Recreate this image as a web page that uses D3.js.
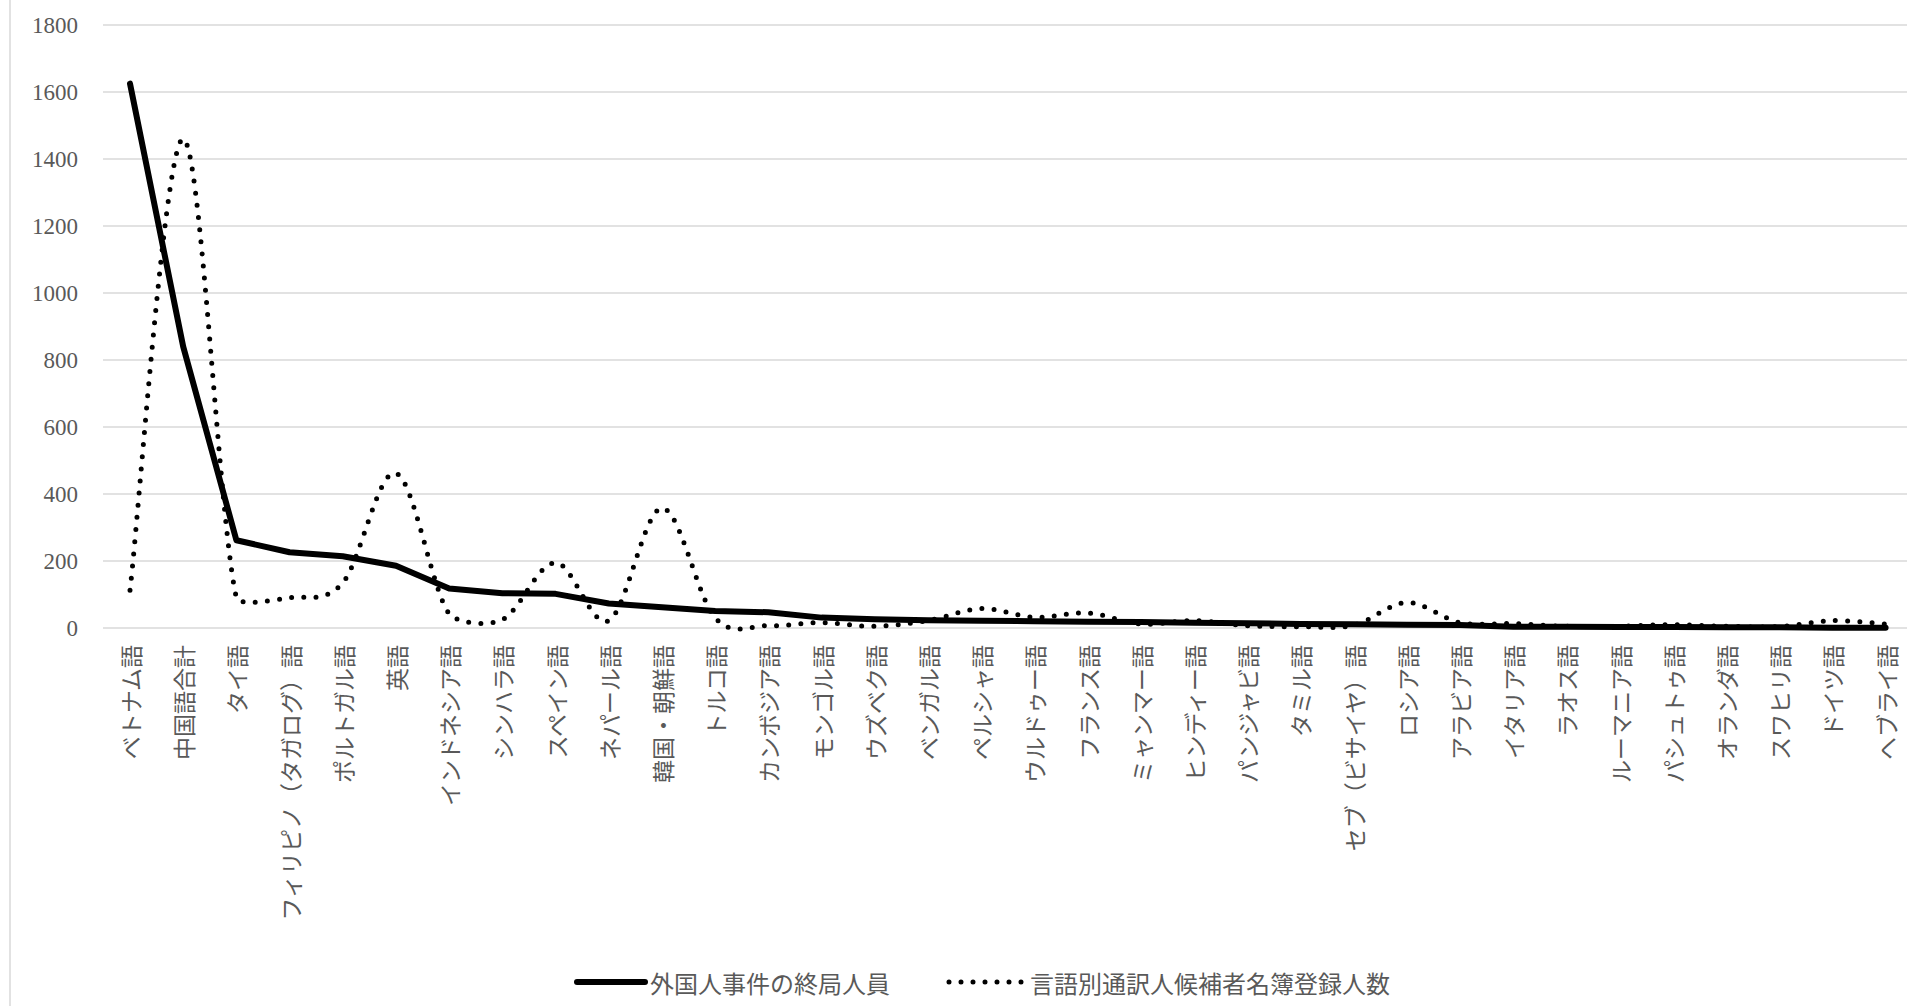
<!DOCTYPE html>
<html>
<head>
<meta charset="utf-8">
<script src="https://cdn.jsdelivr.net/npm/d3@7"></script>
<style>
  body { margin: 0; background: #fff; }
  svg { display: block; }
</style>
</head>
<body>
<svg id="chart"></svg>
<script>
// categories (languages)
const languages = [
  "ベトナム語", "中国語合計", "タイ語", "フィリピノ（タガログ）語", "ポルトガル語", "英語",
  "インドネシア語", "シンハラ語", "スペイン語", "ネパール語", "韓国・朝鮮語", "トルコ語",
  "カンボジア語", "モンゴル語", "ウズベク語", "ベンガル語", "ペルシャ語", "ウルドゥー語",
  "フランス語", "ミャンマー語", "ヒンディー語", "パンジャビ語", "タミル語", "セブ（ビサイヤ）語",
  "ロシア語", "アラビア語", "イタリア語", "ラオス語", "ルーマニア語", "パシュトゥ語",
  "オランダ語", "スワヒリ語", "ドイツ語", "ヘブライ語"
];

// 外国人事件の終局人員
const caseCounts = [
  1625, 840, 262, 226, 214, 186, 118, 104, 102, 73, 62, 51,
  47, 31, 26, 23, 22, 20, 19, 18, 16, 14, 12, 11,
  10, 9, 4, 4, 3, 3, 2, 2, 1, 1
];

// 言語別通訳人候補者名簿登録人数
const interpreterCounts = [
  113, 1460, 90, 90, 135, 462, 42, 25, 195, 22, 358, 30,
  7, 16, 5, 22, 58, 32, 45, 12, 22, 7, 4, 8,
  76, 16, 13, 5, 5, 10, 5, 4, 22, 12
];

const yTicks = [0, 200, 400, 600, 800, 1000, 1200, 1400, 1600, 1800];

const seriesNames = ["外国人事件の終局人員", "言語別通訳人候補者名簿登録人数"];

const width = 1907, height = 1006;
const jpFont = "'Noto Sans CJK JP', sans-serif";
const numFont = "'Liberation Serif', 'Times New Roman', 'DejaVu Serif', serif";
const textColor = "#595959";

const svg = d3.select('#chart')
    .attr('width', width)
    .attr('height', height);

const x = d3.scalePoint()
    .domain(languages)
    .range([130, 1885.6]);

const y = d3.scaleLinear()
    .domain([0, 1800])
    .range([628, 25]);

// Excel-like smoothed line: bezier with 1/6 tangents, shortened on steep neighbours
function smoothPath(values) {
    const pts = values.map((v, i) => [x(languages[i]), y(v)]);
    const dist = (a, b) => Math.hypot(b[0] - a[0], b[1] - a[1]);
    const p = d3.path();
    p.moveTo(pts[0][0], pts[0][1]);
    for (let i = 0; i < pts.length - 1; i++) {
        const p0 = pts[Math.max(i - 1, 0)], p1 = pts[i], p2 = pts[i + 1];
        const p3 = pts[Math.min(i + 2, pts.length - 1)];
        const d12 = dist(p1, p2), d02 = dist(p0, p2), d13 = dist(p1, p3);
        const l0 = d02 / 6 < d12 / 2 ? d02 / 6 : d12 / 6;
        const l3 = d13 / 6 < d12 / 2 ? d13 / 6 : d12 / 6;
        const b1 = [p1[0] + (p2[0] - p0[0]) / d02 * l0, p1[1] + (p2[1] - p0[1]) / d02 * l0];
        const b2 = [p2[0] - (p3[0] - p1[0]) / d13 * l3, p2[1] - (p3[1] - p1[1]) / d13 * l3];
        p.bezierCurveTo(b1[0], b1[1], b2[0], b2[1], p2[0], p2[1]);
    }
    return p.toString();
}

// left border of the chart area
svg.append('line')
    .attr('x1', 10).attr('x2', 10)
    .attr('y1', 0).attr('y2', height)
    .attr('stroke', '#d9d9d9')
    .attr('stroke-width', 1.5);

// gridlines
svg.append('g')
  .selectAll('line')
  .data(yTicks)
  .enter().append('line')
    .attr('x1', 103).attr('x2', width)
    .attr('y1', d => y(d)).attr('y2', d => y(d))
    .attr('stroke', '#d9d9d9')
    .attr('stroke-width', 1.5);

// y labels
svg.append('g')
  .selectAll('text')
  .data(yTicks)
  .enter().append('text')
    .attr('x', 78)
    .attr('y', d => y(d))
    .attr('dy', '0.35em')
    .attr('text-anchor', 'end')
    .style('font-family', numFont)
    .style('font-size', '23px')
    .style('fill', textColor)
    .text(d => d);

// category labels, rotated
svg.append('g')
  .selectAll('text')
  .data(languages)
  .enter().append('text')
    .attr('transform', d => `translate(${x(d)},645) rotate(-90)`)
    .attr('text-anchor', 'end')
    .attr('dominant-baseline', 'central')
    .style('font-family', jpFont)
    .style('font-size', '23px')
    .style('fill', textColor)
    .text(d => d);

// solid line
const solidLine = d3.line()
    .x((d, i) => x(languages[i]))
    .y(d => y(d));

svg.append('path')
    .datum(caseCounts)
    .attr('d', solidLine)
    .attr('fill', 'none')
    .attr('stroke', '#000')
    .attr('stroke-width', 6)
    .attr('stroke-linejoin', 'round')
    .attr('stroke-linecap', 'round');

// smoothed dotted line
svg.append('path')
    .attr('d', smoothPath(interpreterCounts))
    .attr('fill', 'none')
    .attr('stroke', '#000')
    .attr('stroke-width', 5)
    .attr('stroke-dasharray', '0 12.2')
    .attr('stroke-linecap', 'round');

// legend
const legend = svg.append('g');
legend.append('line')
    .attr('x1', 577).attr('x2', 645)
    .attr('y1', 982).attr('y2', 982)
    .attr('stroke', '#000')
    .attr('stroke-width', 6)
    .attr('stroke-linecap', 'round');
legend.append('text')
    .attr('x', 650).attr('y', 982)
    .attr('dominant-baseline', 'central')
    .style('font-family', jpFont)
    .style('font-size', '24px')
    .style('fill', textColor)
    .text(seriesNames[0]);
legend.append('line')
    .attr('x1', 949).attr('x2', 1022)
    .attr('y1', 982).attr('y2', 982)
    .attr('stroke', '#000')
    .attr('stroke-width', 5)
    .attr('stroke-dasharray', '0 12')
    .attr('stroke-linecap', 'round');
legend.append('text')
    .attr('x', 1030).attr('y', 982)
    .attr('dominant-baseline', 'central')
    .style('font-family', jpFont)
    .style('font-size', '24px')
    .style('fill', textColor)
    .text(seriesNames[1]);
</script>
</body>
</html>
